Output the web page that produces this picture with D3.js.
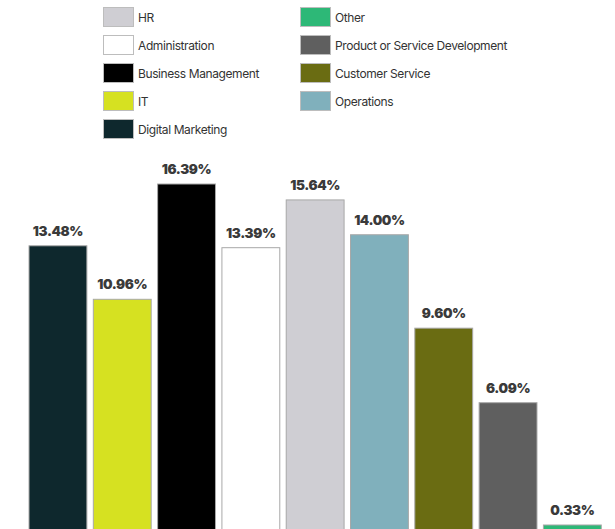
<!DOCTYPE html>
<html>
<head>
<meta charset="utf-8">
<script src="https://cdn.jsdelivr.net/npm/d3@7"></script>
<style>
  html, body { margin: 0; padding: 0; background: #fff; }
  svg { display: block; }
</style>
</head>
<body>
<div id="chart"></div>
<script>
// Share of respondents by department
const categories = ["Digital Marketing", "IT", "Business Management", "Administration", "HR",
                    "Operations", "Customer Service", "Product or Service Development", "Other"];
const values = [13.48, 10.96, 16.39, 13.39, 15.64, 14.00, 9.60, 6.09, 0.33];
const colors = ["#0e282d", "#d6e121", "#000000", "#ffffff", "#cfced3",
                "#80b0bc", "#6a6c12", "#5f5f5f", "#2db877"];
// Legend columns
const legendCol1 = ["HR", "Administration", "Business Management", "IT", "Digital Marketing"];
const legendCol2 = ["Other", "Product or Service Development", "Customer Service", "Operations"];

const width = 615, height = 529;
const colorOf = d3.scaleOrdinal().domain(categories).range(colors);

const svg = d3.select("#chart").append("svg")
  .attr("width", width).attr("height", height);

const x = d3.scaleBand().domain(categories)
  .range([25.8, 604.5]).paddingInner(0.1).paddingOuter(0.05);
const y = d3.scaleLinear().domain([0, 16.39]).range([532, 184]);

// Bars
svg.append("g").selectAll("rect")
  .data(categories)
  .join("rect")
  .attr("x", d => x(d))
  .attr("y", (d, i) => y(values[i]))
  .attr("width", x.bandwidth())
  .attr("height", (d, i) => y(0) - y(values[i]))
  .attr("fill", d => colorOf(d))
  .attr("stroke", "#a8a8a8")
  .attr("stroke-width", 1);

// Value labels
svg.append("g").selectAll("text")
  .data(categories)
  .join("text")
  .attr("x", d => x(d) + x.bandwidth() / 2)
  .attr("y", (d, i) => y(values[i]) - 10)
  .attr("text-anchor", "middle")
  .attr("font-family", "Inter, 'Open Sans', sans-serif")
  .attr("font-weight", 900)
  .attr("font-size", 13.5)
  .attr("letter-spacing", -0.4)
  .attr("fill", "#3a3a3a")
  .text((d, i) => values[i].toFixed(2) + "%");

// Legend
function drawLegend(items, x0) {
  const g = svg.append("g").attr("transform", `translate(${x0},7)`);
  const row = g.selectAll("g").data(items).join("g")
    .attr("transform", (d, i) => `translate(0,${i * 28})`);
  row.append("rect")
    .attr("x", 0.5).attr("y", 0.5)
    .attr("width", 30).attr("height", 19)
    .attr("fill", d => colorOf(d))
    .attr("stroke", "#bdbdbd").attr("stroke-width", 1);
  row.append("text")
    .attr("x", 35).attr("y", 14.5)
    .attr("font-family", "Inter, 'Open Sans', sans-serif")
    .attr("font-size", 12)
    .attr("letter-spacing", -0.4)
    .attr("fill", "#333")
    .text(d => d);
}
drawLegend(legendCol1, 103);
drawLegend(legendCol2, 300);
</script>
</body>
</html>
